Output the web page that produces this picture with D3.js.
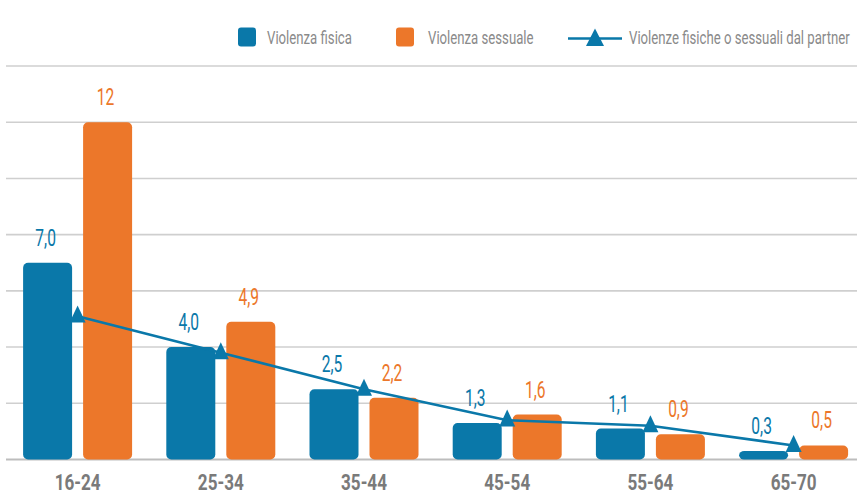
<!DOCTYPE html>
<html>
<head>
<meta charset="utf-8">
<script src="https://cdn.jsdelivr.net/npm/d3@7"></script>
<style>
  html, body { margin: 0; padding: 0; background: #fff; }
  svg { display: block; }
  text { font-family: Roboto, "DejaVu Sans Condensed", sans-serif; }
</style>
</head>
<body>
<svg id="chart" width="857" height="495"></svg>
<script>
// Age groups and percentages
const categories = ["16-24", "25-34", "35-44", "45-54", "55-64", "65-70"];
const fisica = [7.0, 4.0, 2.5, 1.3, 1.1, 0.3];
const sessuale = [12, 4.9, 2.2, 1.6, 0.9, 0.5];
const partner = [5.1, 3.8, 2.5, 1.4, 1.2, 0.5];
const fisicaLabels = ["7,0", "4,0", "2,5", "1,3", "1,1", "0,3"];
const sessualeLabels = ["12", "4,9", "2,2", "1,6", "0,9", "0,5"];
const gridTicks = [0, 2, 4, 6, 8, 10, 12, 14];
const seriesNames = ["Violenza fisica", "Violenza sessuale", "Violenze fisiche o sessuali dal partner"];

const BLUE = "#0a78a9";
const ORANGE = "#ec772a";
const GRID = "#cfcfcf";

const svg = d3.select("#chart");

// Condensed look: squeeze glyphs horizontally around each text's anchor point
function measure(str, size, weight) {
  const t = svg.append("text").attr("font-size", size).attr("font-weight", weight || "normal").text(str);
  const w = t.node().getComputedTextLength();
  t.remove();
  return w;
}
const fLegend = 85 / measure("Violenza fisica", 18.5);
const fValue = 17.5 / measure("12", 23.5);
const fAxis = 46 / measure("16-24", 22.5, "bold");

const y = d3.scaleLinear().domain([0, 14]).range([459.5, 66]);
const x = d3.scaleBand().domain(categories).range([6, 6 + 6 * 143.2]).padding(0);
const x1 = d3.scaleBand().domain(["fisica", "sessuale"]).range([-54.5, 54.5]).paddingInner(11 / 60).paddingOuter(0);
const cx = c => x(c) + x.bandwidth() / 2;

// Horizontal gridlines
svg.append("g")
  .selectAll("line")
  .data(gridTicks)
  .join("line")
  .attr("x1", 6).attr("x2", 857)
  .attr("y1", d => y(d)).attr("y2", d => y(d))
  .attr("stroke", d => d === 0 ? "#bdbdbd" : GRID)
  .attr("stroke-width", d => d === 0 ? 2.2 : 1.6);

// Bars with value labels
const rows = categories.map((c, i) => ({ c, fisica: fisica[i], sessuale: sessuale[i], fl: fisicaLabels[i], sl: sessualeLabels[i] }));
const series = [
  { key: "fisica", color: BLUE, label: "fl" },
  { key: "sessuale", color: ORANGE, label: "sl" }
];
series.forEach(s => {
  const g = svg.append("g");
  g.selectAll("rect")
    .data(rows)
    .join("rect")
    .attr("x", d => cx(d.c) + x1(s.key))
    .attr("width", x1.bandwidth())
    .attr("y", d => y(d[s.key]))
    .attr("height", d => y(0) - y(d[s.key]))
    .attr("rx", 5).attr("ry", 5)
    .attr("fill", s.color);
  g.selectAll("text")
    .data(rows)
    .join("text")
    .attr("transform", d => `translate(${cx(d.c) + x1(s.key) + x1.bandwidth() / 2 - 2},${y(d[s.key]) - 17}) scale(${fValue},1)`)
    .attr("text-anchor", "middle")
    .attr("font-size", 23.5)
    .attr("fill", s.color)
    .text(d => d[s.label]);
});

// Partner line with triangle markers
const line = d3.line().x((d, i) => cx(categories[i])).y(d => y(d));
svg.append("path")
  .datum(partner)
  .attr("d", line)
  .attr("fill", "none")
  .attr("stroke", BLUE)
  .attr("stroke-width", 2.6);

const tri = (w, h) => `M0,${-h * 0.62}L${w / 2},${h * 0.38}L${-w / 2},${h * 0.38}Z`;
svg.append("g")
  .selectAll("path")
  .data(partner)
  .join("path")
  .attr("transform", (d, i) => `translate(${cx(categories[i])},${y(d)})`)
  .attr("d", tri(16, 17))
  .attr("fill", BLUE);

// Category axis labels
const xAxis = d3.axisBottom(x).tickSize(0).tickPadding(0);
const ax = svg.append("g").attr("transform", "translate(0,474)").call(xAxis);
ax.select(".domain").remove();
ax.selectAll("text")
  .attr("y", 16)
  .attr("dy", 0)
  .attr("transform", `scale(${fAxis},1)`)
  .attr("font-size", 22.5)
  .attr("font-weight", "bold")
  .attr("font-family", "Roboto, sans-serif")
  .attr("fill", "#7a7a7a");

// Legend
const legend = svg.append("g").attr("font-size", 18.5).attr("fill", "#8a8a8a");
const legendText = (lx, str) => legend.append("text")
  .attr("transform", `translate(${lx},43.5) scale(${fLegend},1)`)
  .text(str);
legend.append("rect").attr("x", 238).attr("y", 27.5).attr("width", 18).attr("height", 19).attr("rx", 3).attr("fill", BLUE);
legendText(267, seriesNames[0]);
legend.append("rect").attr("x", 396).attr("y", 27.5).attr("width", 18).attr("height", 19).attr("rx", 3).attr("fill", ORANGE);
legendText(428, seriesNames[1]);
legend.append("line").attr("x1", 568).attr("x2", 622).attr("y1", 38.5).attr("y2", 38.5).attr("stroke", BLUE).attr("stroke-width", 2.6);
legend.append("path").attr("transform", "translate(595,38.5)").attr("d", "M0,-10L9,7.5L-9,7.5Z").attr("fill", BLUE);
legendText(629, seriesNames[2]);
</script>
</body>
</html>
